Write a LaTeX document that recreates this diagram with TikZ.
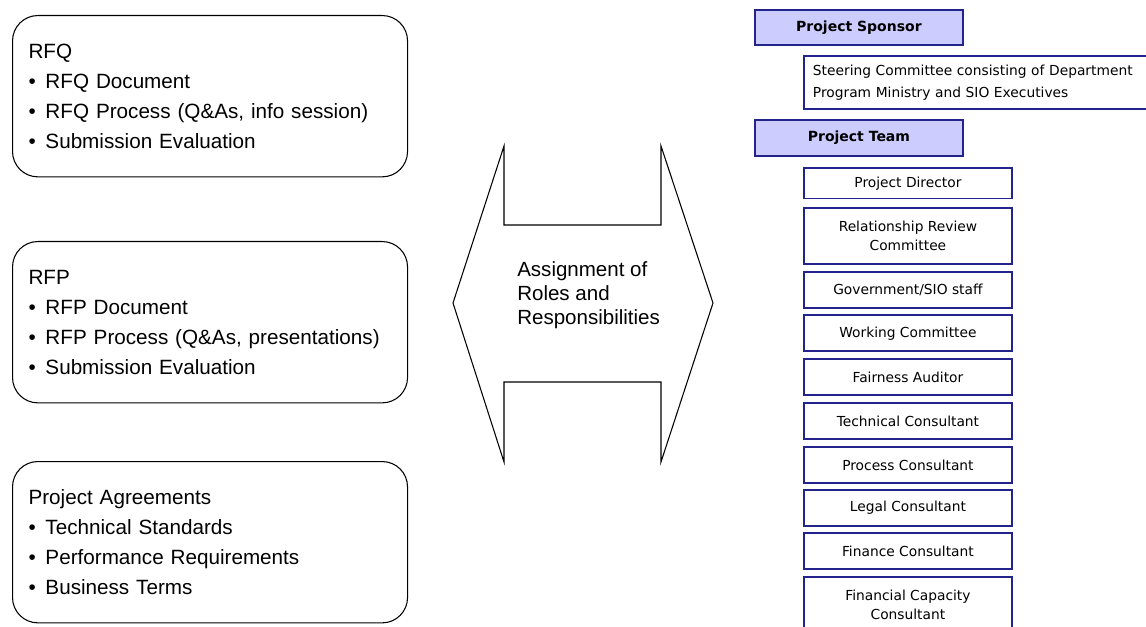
\documentclass[tikz,border=0pt]{standalone}
\usepackage{fontspec}
\setmainfont{Liberation Sans}
\newfontfamily\tahoma{DejaVu Sans}
\usetikzlibrary{positioning}
\definecolor{rolenavy}{RGB}{35,35,140}
\definecolor{headfill}{RGB}{204,204,255}
\newcommand\bitem{\textbullet\hspace{7.3pt}}

\tikzset{
  phase/.style={draw=black, line width=0.8pt, rounded corners=19pt, anchor=north west,
    minimum height=121pt, inner xsep=12pt, text width=272.25pt, align=left,
    font=\fontsize{15.5}{22.5}\selectfont},
  head/.style={draw=rolenavy, fill=headfill, line width=1.4pt, anchor=north west,
    minimum width=156pt, inner sep=0pt, font=\tahoma\bfseries\fontsize{10.5}{12}\selectfont},
  role/.style={draw=rolenavy, line width=1.4pt, anchor=north west, minimum width=156pt,
    inner sep=0pt, align=center, font=\tahoma\fontsize{10.35}{14.25}\selectfont},
}

\begin{document}
\begin{tikzpicture}[x=0.75pt,y=-0.75pt]
\useasboundingbox (0,0) rectangle (1146,627);
\clip (0,0) rectangle (1146,627);
\node[phase] (rfq) at (12,15) {RFQ\\\bitem RFQ Document\\\bitem RFQ Process (Q\&As, info session)\\\bitem Submission Evaluation};
\node[phase] (rfp) at (12,241) {RFP\\\bitem RFP Document\\\bitem RFP Process (Q\&As, presentations)\\\bitem Submission Evaluation};
\node[phase] (agree) at (12,461) {Project Agreements\\\bitem Technical Standards\\\bitem Performance Requirements\\\bitem Business Terms};
\coordinate (tipL) at (453,303);
\coordinate (tipR) at (713,303);
\draw[line width=0.8pt] (tipL) -- (504,146) -- (504,225) -- (661,225) -- (661,146) -- (tipR)
  -- (661,462) -- (661,382) -- (504,382) -- (504,462) -- cycle;
\node[anchor=west, inner sep=0pt, align=left, font=\fontsize{15.4}{18}\selectfont] (roles) at (517,295.5) {Assignment of\\Roles and\\Responsibilities};
\node[head, minimum height=26.25pt] (sponsor) at (754,9) {Project Sponsor};
\node[role, anchor=north west, minimum height=39.75pt, inner xsep=6.75pt, text width=286pt, align=left,
  font=\tahoma\fontsize{10.35}{16.75}\selectfont] (steer) at (803,55) {Steering Committee consisting of Department\\Program Ministry and SIO Executives};
\node[head, minimum height=27pt] (team) at (754,119) {Project Team};
\node[role, minimum height=22.9pt] (director) at (803,167) {Project Director};
\node[role, minimum height=42pt] (review) at (803,206.7) {Relationship Review\\Committee};
\node[role, minimum height=27pt] (staff) at (803,270.7) {Government/SIO staff};
\node[role, minimum height=27pt] (working) at (803,314.3) {Working Committee};
\node[role, minimum height=27pt] (fairness) at (803,358.3) {Fairness Auditor};
\node[role, minimum height=27pt] (technical) at (803,402) {Technical Consultant};
\node[role, minimum height=27pt] (process) at (803,446) {Process Consultant};
\node[role, minimum height=27pt] (legal) at (803,489) {Legal Consultant};
\node[role, minimum height=27pt] (finance) at (803,532) {Finance Consultant};
\node[role, minimum height=41.25pt] (capacity) at (803,576) {Financial Capacity\\Consultant};
\end{tikzpicture}
\end{document}
